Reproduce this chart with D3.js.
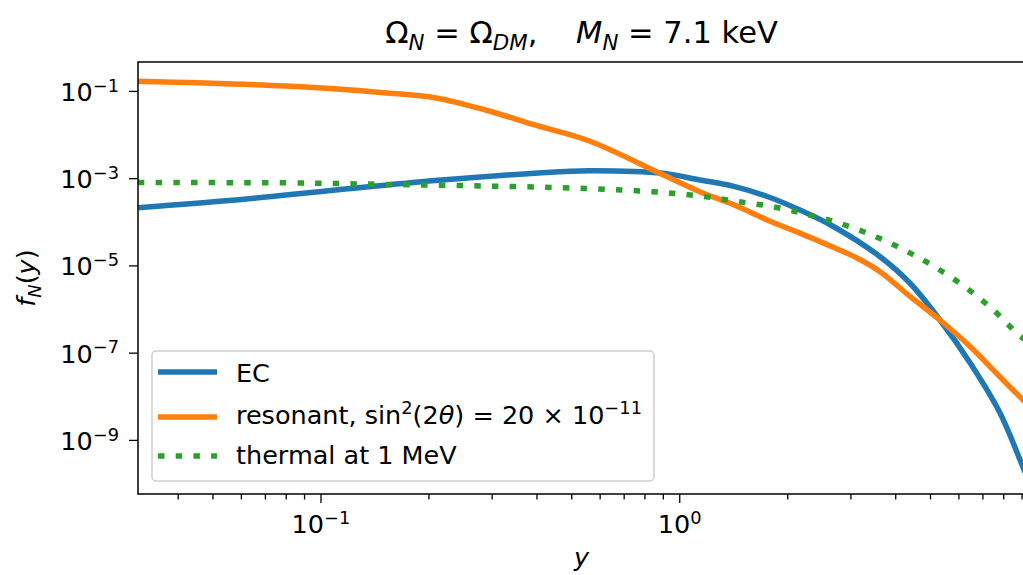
<!DOCTYPE html>
<html>
<head>
<meta charset="utf-8">
<script src="https://cdn.jsdelivr.net/npm/d3@7"></script>
<style>
  body { margin: 0; background: #fff; }
  text { font-family: "DejaVu Sans", sans-serif; white-space: pre; fill: #000; }
</style>
</head>
<body>
<div id="chart"></div>
<script>
// values (y, f_N(y))
const ecY   = [0.031, 0.059, 0.112, 0.213, 0.405, 0.56, 0.9, 1.14, 1.42, 1.76, 2.17, 2.69, 3.63, 4.4, 5.33, 6.47, 7.83, 8.91, 9.2];
const ecF   = [2.1e-4, 3.2e-4, 5.4e-4, 8.9e-4, 1.32e-3, 1.48e-3, 1.29e-3, 9.1e-4, 6.5e-4, 3.8e-4, 1.86e-4, 7.8e-5, 1.58e-5, 3.9e-6, 5.6e-7, 5.8e-8, 4.2e-9, 3.5e-10, 1.8e-10];

const resY  = [0.031, 0.08, 0.15, 0.21, 0.29, 0.4, 0.56, 0.9, 1.14, 1.42, 1.76, 2.17, 2.69, 3.13, 3.63, 4.4, 5.33, 6.47, 7.83, 9.2];
const resF  = [0.166, 0.129, 0.091, 0.069, 0.036, 0.0162, 7.2e-3, 1.2e-3, 4.9e-4, 2.45e-4, 1.1e-4, 5.5e-5, 2.6e-5, 1.48e-5, 7.2e-6, 1.95e-6, 5.6e-7, 1.38e-7, 2.8e-8, 7.4e-9];

const thY   = [0.031, 0.08, 0.15, 0.29, 0.55, 0.9, 1.17, 1.46, 1.83, 2.29, 2.84, 3.52, 4.31, 5.22, 6.33, 7.51, 8.81, 9.2];
const thF   = [7.9e-4, 7.8e-4, 7.2e-4, 6.6e-4, 5.8e-4, 4.7e-4, 3.8e-4, 2.9e-4, 2.2e-4, 1.45e-4, 8.9e-5, 4.6e-5, 2.1e-5, 8.7e-6, 3.0e-6, 9.5e-7, 2.6e-7, 2.0e-7];

const xMajor = [0.1, 1];
const xMinor = [0.04, 0.05, 0.06, 0.07, 0.08, 0.09, 0.2, 0.3, 0.4, 0.5, 0.6, 0.7, 0.8, 0.9, 2, 3, 4, 5, 6, 7, 8, 9];
const yMajor = [1e-1, 1e-3, 1e-5, 1e-7, 1e-9];

const series = [
  { name: "EC", xs: ecY, ys: ecF, color: "#1f77b4", dash: null },
  { name: "resonant", xs: resY, ys: resF, color: "#ff7f0e", dash: null },
  { name: "thermal", xs: thY, ys: thF, color: "#2ca02c", dash: "6.5 11.2" }
];

const W = 1023, H = 575;
const margin = { top: 62, left: 138, right: 1025, bottom: 494 };
const FS = 25.5;

const svg = d3.select("#chart").append("svg")
    .attr("width", W)
    .attr("height", H);

const x = d3.scaleLog().domain([0.031, 9.2]).range([margin.left, margin.right]);
const y = d3.scaleLog().domain([5.75e-11, 0.46]).range([margin.bottom, margin.top]);

// rich text: parts of {t, i, sub, sup}
function rich(sel, parts, size) {
    let shift = 0;
    parts.forEach(p => {
        let target = p.sub ? size * 0.22 : (p.sup ? -size * 0.36 : 0);
        sel.append("tspan")
            .attr("dy", target - shift)
            .style("font-size", (p.sub || p.sup) ? (size * 0.7) + "px" : size + "px")
            .style("font-style", p.i ? "italic" : "normal")
            .text(p.t);
        shift = target;
    });
}

// clip for curves
svg.append("clipPath").attr("id", "clip")
    .append("rect")
    .attr("x", margin.left).attr("y", margin.top)
    .attr("width", margin.right - margin.left)
    .attr("height", margin.bottom - margin.top);

const line = d3.line()
    .x(d => x(d[0]))
    .y(d => y(d[1]))
    .curve(d3.curveCatmullRom.alpha(0.5));

svg.append("g").attr("clip-path", "url(#clip)")
    .selectAll("path")
    .data(series)
    .join("path")
    .attr("d", s => line(s.xs.map((v, i) => [v, s.ys[i]])))
    .attr("fill", "none")
    .attr("stroke", s => s.color)
    .attr("stroke-width", 5.5)
    .attr("stroke-dasharray", s => s.dash);

// x axis
const xMinorAxis = d3.axisBottom(x).tickValues(xMinor).tickSize(5.5).tickFormat("");
const xMajorAxis = d3.axisBottom(x).tickValues(xMajor).tickSize(9).tickFormat("");
const gxMin = svg.append("g").attr("transform", `translate(0,${margin.bottom})`).call(xMinorAxis);
const gx = svg.append("g").attr("transform", `translate(0,${margin.bottom})`).call(xMajorAxis);
[gxMin, gx].forEach(g => {
    g.select(".domain").remove();
    g.selectAll("line").attr("stroke", "#000").attr("stroke-width", 1.3);
});
gx.selectAll(".tick").each(function(d) {
    let t = d3.select(this).append("text")
        .attr("y", 39).attr("text-anchor", "middle");
    rich(t, [{ t: "10" }, { t: String(Math.round(Math.log10(d))).replace("-", "\u2212"), sup: true }], FS);
});

// y axis
const yAxis = d3.axisLeft(y).tickValues(yMajor).tickSize(9).tickFormat("");
const gy = svg.append("g").attr("transform", `translate(${margin.left},0)`).call(yAxis);
gy.select(".domain").remove();
gy.selectAll("line").attr("stroke", "#000").attr("stroke-width", 1.3);
gy.selectAll(".tick").each(function(d) {
    let t = d3.select(this).append("text")
        .attr("x", -19).attr("y", 9.5).attr("text-anchor", "end");
    rich(t, [{ t: "10" }, { t: String(Math.round(Math.log10(d))).replace("-", "\u2212"), sup: true }], FS);
});

// spines
svg.append("rect")
    .attr("x", margin.left).attr("y", margin.top)
    .attr("width", margin.right - margin.left)
    .attr("height", margin.bottom - margin.top)
    .attr("fill", "none")
    .attr("stroke", "#000")
    .attr("stroke-width", 1.5);

// title
const title = svg.append("text")
    .attr("x", (margin.left + margin.right) / 2)
    .attr("y", 43)
    .attr("text-anchor", "middle");
rich(title, [
    { t: "\u03A9" }, { t: "N", i: true, sub: true },
    { t: " = \u03A9" }, { t: "DM", i: true, sub: true },
    { t: ",    " }, { t: "M", i: true }, { t: "N", i: true, sub: true },
    { t: " = 7.1 keV" }
], 30.5);

// axis labels
svg.append("text")
    .attr("x", (margin.left + margin.right) / 2)
    .attr("y", 566)
    .attr("text-anchor", "middle")
    .style("font-size", FS + "px")
    .style("font-style", "italic")
    .text("y");

const ylab = svg.append("text")
    .attr("transform", `translate(35,${(margin.top + margin.bottom) / 2}) rotate(-90)`)
    .attr("text-anchor", "middle");
rich(ylab, [{ t: "f", i: true }, { t: "N", i: true, sub: true }, { t: "(" }, { t: "y", i: true }, { t: ")" }], FS);

// legend
const legend = svg.append("g");
legend.append("rect")
    .attr("x", 152).attr("y", 351)
    .attr("width", 502).attr("height", 130)
    .attr("rx", 4)
    .attr("fill", "#fff").attr("fill-opacity", 0.8)
    .attr("stroke", "#d0d0d0").attr("stroke-width", 1.5);

const legendRows = [
    { s: series[0], ly: 372, ty: 382, parts: [{ t: "EC" }] },
    { s: series[1], ly: 417, ty: 423.5, parts: [
        { t: "resonant, sin" }, { t: "2", sup: true }, { t: "(2" }, { t: "\u03B8", i: true },
        { t: ") = 20 \u00D7 10" }, { t: "\u221211", sup: true }] },
    { s: series[2], ly: 456, ty: 463.5, parts: [{ t: "thermal at 1 MeV" }] }
];
legendRows.forEach(r => {
    legend.append("line")
        .attr("x1", 158).attr("x2", 217)
        .attr("y1", r.ly).attr("y2", r.ly)
        .attr("stroke", r.s.color)
        .attr("stroke-width", 5.5)
        .attr("stroke-dasharray", r.s.dash);
    let t = legend.append("text").attr("x", 236).attr("y", r.ty);
    rich(t, r.parts, FS);
});
</script>
</body>
</html>
